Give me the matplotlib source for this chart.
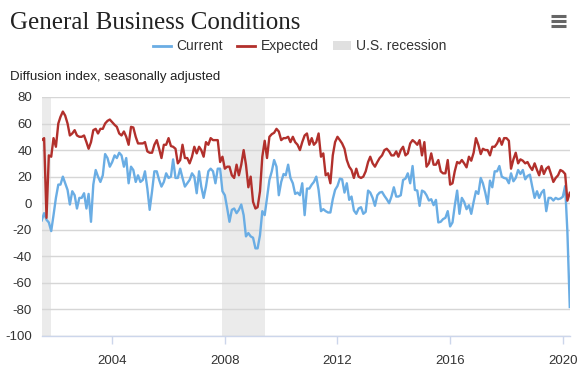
import numpy as np
import pandas as pd
import matplotlib
matplotlib.use("Agg")
import matplotlib.pyplot as plt
from matplotlib.lines import Line2D
from matplotlib.patches import Patch

plt.rcParams['font.family'] = ['Liberation Sans', 'DejaVu Sans']
plt.rcParams['axes.unicode_minus'] = False

# monthly values, Jul 2001 - Apr 2020
current = [
    -13, -7.5, -12.5, -14.5, -21, -9,                        # 2001 (Jul-Dec)
    4, 14, 14, 20, 15, 10, -1, 9, 6, -4, 4, 4,               # 2002
    7.5, -4, 7, -14, 14, 25, 20, 16, 21, 37, 34, 27.5,       # 2003
    31, 36, 34, 38, 36, 27.5, 34, 15, 27.5, 25, 16, 21,      # 2004
    16, 17.5, 24, 11, -5, 9, 24, 24, 17.5, 12.5, 16, 22.5,   # 2005
    19, 20, 33, 19, 19, 26, 19, 12.5, 15, 17.5, 22.5, 20,    # 2006
    7.5, 24, 12.5, 4, 12.5, 24, 26, 24, 15, 26, 26, 9,       # 2007
    6, -4, -14, -5, -4, -7.5, -5, -1, -9, -25, -22.5, -25,   # 2008
    -26, -34, -34, -24, -6, -9, 4, 17.5, 24, 32.5, 27.5, 6,  # 2009
    16, 22, 21, 29, 19, 15, 7, 8, 6, 15, -9, 11,             # 2010
    11, 14, 16, 20, 10, -6, -4.5, -6, -7, -7, 3, 10,         # 2011
    13, 18.5, 18, 8, 15, 2.5, 5, -5.5, -8, -4, -3, -8,       # 2012
    -6.5, 9.5, 8, 4, -2, 6, 8, 8.5, 5.5, 3, 0, 5,            # 2013
    12, 5, 5, 6, 17.5, 18.5, 22.5, 15, 28, 10, 9.5, -2,      # 2014
    9.5, 8.5, 6, 2, 3, -1.5, 2.5, -14.5, -14, -12, -11, -6,  # 2015
    -17.5, -14.5, -2, 9.5, -8, 4, 1, -4.5, -1.5, -8, 1, 9,   # 2016
    7, 19, 15, 8, -0.5, 17, 12, 24, 24, 28, 20, 19,          # 2017
    18.5, 15, 22.5, 16.5, 19, 25, 22, 25, 18, 20.5, 21.5, 12.5,  # 2018
    4, 9, 4, 8, 10, -6, 4, 4, 2, 4, 3, 3.5,                  # 2019
    4.8, 12.9, -21.5, -78.2,                                 # 2020
]

expected = [
    47.5, 49, -11, 36, 35, 49,
    42.5, 60, 65, 69, 66, 60, 51, 52.5, 55, 51, 50, 50,
    51, 46, 41, 46, 55, 56, 52.5, 56, 56, 60, 62, 63,
    61, 59, 57.5, 52.5, 51, 54, 50, 44, 57.5, 57, 50, 45,
    45, 45, 46, 39, 38, 38, 44, 47.5, 41, 34, 44, 44,
    49, 43, 42.5, 41, 30, 32.5, 44, 34, 34, 30, 35, 42.5,
    37.5, 42.5, 40, 35, 46, 44, 49, 47.5, 47.5, 47.5, 31, 35,
    26, 27.5, 27.5, 21, 19, 29, 21, 29, 40, 29, 12, 20,
    1, -4, -3, 9, 35, 47, 34, 50, 52, 53, 56, 54,
    47.5, 49, 49, 50, 46, 50, 46, 44, 40, 46, 51, 52.5,
    44, 49, 44, 46, 52.5, 35, 37.5, 21, 22.5, 15, 36, 46,
    50, 47.5, 45, 41, 32.5, 27.5, 25, 19, 26, 20, 19, 20,
    24, 31, 35, 30, 27.5, 31, 34, 36, 40, 41, 39, 36,
    36, 39, 35, 40, 42.5, 36, 37.5, 45, 47.5, 46, 44, 47.5,
    36, 46, 27.5, 30, 37.5, 29, 29, 32.5, 24, 22.5, 22.5, 32.5,
    14, 15, 24, 31, 30, 32.5, 30, 27, 35, 32, 38, 49,
    44, 37, 41, 40, 40, 36, 42.5, 42.5, 45, 49, 44, 49,
    49, 47, 26, 33, 38, 30, 33, 32, 30, 31, 27.5, 25,
    30, 25, 21, 28, 22, 26, 27.5, 22, 16, 19, 21, 25,
    24, 22, 1.9, 7.8,
]

dates = pd.date_range("2001-07-01", periods=len(current), freq="MS")

recessions = [("2001-03-01", "2001-11-01"), ("2007-12-01", "2009-06-01")]
tick_years = [2004, 2008, 2012, 2016, 2020]
y_ticks = [80, 60, 40, 20, 0, -20, -40, -60, -80, -100]

blue = "#6aade4"
red = "#b2302c"
shade = "#ebebeb"
text_col = "#333333"

fig = plt.figure(figsize=(5.82, 3.77), dpi=100)
ax = fig.add_axes([0.0717, 0.1088, 0.9073, 0.634])

for start, end in recessions:
    ax.axvspan(pd.Timestamp(start), pd.Timestamp(end), color=shade, lw=0, zorder=0)

ax.plot(dates, current, color=blue, lw=1.7, zorder=3)
ax.plot(dates, expected, color=red, lw=1.7, zorder=3)

ax.set_xlim(dates[0], dates[-1])
ax.set_ylim(-100, 80)
ax.set_yticks(y_ticks)
ax.set_yticklabels([str(v) for v in y_ticks])
ax.yaxis.grid(True, color="#d6d6d6", lw=1.0, zorder=1)
ax.set_axisbelow(True)

ax.set_xticks([pd.Timestamp(f"{y}-01-01") for y in tick_years])
ax.set_xticklabels([str(y) for y in tick_years])

for s in ["top", "right", "left"]:
    ax.spines[s].set_visible(False)
ax.spines["bottom"].set_color("#ccd6eb")
ax.spines["bottom"].set_linewidth(1.0)

ax.tick_params(axis="y", length=0, pad=7, labelsize=9.5, labelcolor=text_col)
ax.tick_params(axis="x", length=6, width=1, color="#ccd6eb", pad=8,
               labelsize=9.5, labelcolor=text_col)

# title, axis note
fig.text(0.017, 0.968, "General Business Conditions", family="Liberation Serif",
         fontsize=18, color="#222222", va="top", ha="left")
fig.text(0.017, 0.797, "Diffusion index, seasonally adjusted", fontsize=9.5,
         color="#222222", va="center", ha="left")

handles = [
    Line2D([0], [0], color=blue, lw=2),
    Line2D([0], [0], color=red, lw=2),
    Patch(facecolor="#e0e0e0", edgecolor="none"),
]
fig.legend(handles, ["Current", "Expected", "U.S. recession"], loc="center",
           bbox_to_anchor=(0.515, 0.877), ncol=3, frameon=False, fontsize=10,
           handlelength=1.3, handletextpad=0.4, columnspacing=1.0,
           labelcolor=text_col)

# menu icon
for yy in [16, 21, 26]:
    fig.add_artist(Line2D([551 / 582, 566 / 582], [1 - yy / 377, 1 - yy / 377],
                          color="#666666", lw=2.2, solid_capstyle="butt"))

fig.savefig("out.png", dpi=100)
